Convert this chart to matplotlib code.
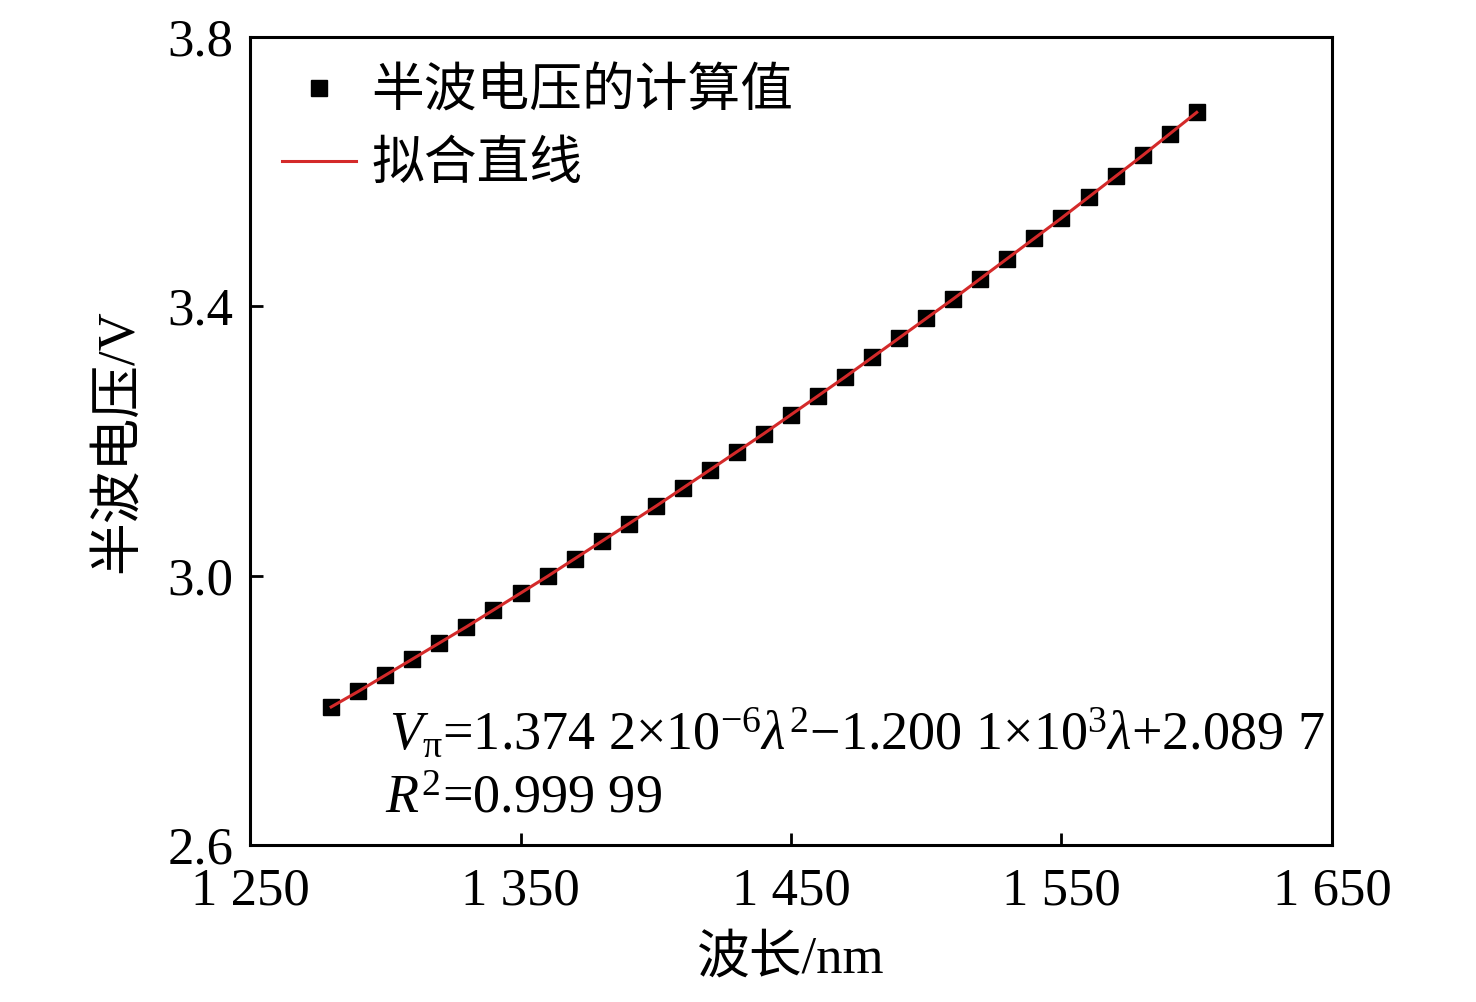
import matplotlib

matplotlib.use("Agg")
import matplotlib.pyplot as plt

plt.rcParams["font.family"] = ["Liberation Serif", "Noto Sans CJK SC", "DejaVu Sans"]
plt.rcParams["mathtext.fontset"] = "custom"
plt.rcParams["mathtext.rm"] = "Liberation Serif"
plt.rcParams["mathtext.it"] = "Liberation Serif:italic"
plt.rcParams["axes.unicode_minus"] = False

# 波长 (nm) 与半波电压计算值 (V)
wavelength = [1280, 1290, 1300, 1310, 1320, 1330, 1340, 1350, 1360, 1370, 1380,
              1390, 1400, 1410, 1420, 1430, 1440, 1450, 1460, 1470, 1480, 1490,
              1500, 1510, 1520, 1530, 1540, 1550, 1560, 1570, 1580, 1590, 1600]
v_calc = [2.805, 2.828, 2.852, 2.876, 2.900, 2.924, 2.949, 2.974, 2.999, 3.025,
          3.051, 3.077, 3.103, 3.130, 3.157, 3.184, 3.211, 3.239, 3.267, 3.295,
          3.324, 3.353, 3.382, 3.411, 3.441, 3.471, 3.501, 3.531, 3.562, 3.593,
          3.624, 3.656, 3.688]
v_fit = v_calc

xticks = [1250, 1350, 1450, 1550, 1650]
xtick_labels = ["1 250", "1 350", "1 450", "1 550", "1 650"]
yticks = [2.6, 3.0, 3.4, 3.8]
ytick_labels = ["2.6", "3.0", "3.4", "3.8"]

fig = plt.figure(figsize=(14.76, 10.02), dpi=100)
ax = fig.add_axes([0.1694, 0.1567, 0.7330, 0.8064])

ax.plot(wavelength, v_calc, "s", color="black", markersize=11, label="半波电压的计算值",
        zorder=2)
ax.plot(wavelength, v_fit, "-", color="#d42a2a", lw=2.2, label="拟合直线", zorder=3)

ax.set_xlim(1250, 1650)
ax.set_ylim(2.6, 3.8)
ax.set_xticks(xticks)
ax.set_xticklabels(xtick_labels)
ax.set_yticks(yticks)
ax.set_yticklabels(ytick_labels)
ax.tick_params(direction="in", length=9, width=2, labelsize=38)
ax.tick_params(axis="x", pad=16)
ax.tick_params(axis="y", pad=12)
for s in ax.spines.values():
    s.set_linewidth(2.2)

ax.set_xlabel("波长/nm", fontsize=38, labelpad=14)
ax.set_ylabel("半波电压/V", fontsize=38, labelpad=18)

leg = ax.legend(loc="upper left", frameon=False, fontsize=38, handlelength=1.4,
                handletextpad=0.3, borderaxespad=0.1, borderpad=0.5,
                labelspacing=0.45, markerscale=1.0)

ax.text(0.128, 0.136,
        r"$V_{\mathrm{\pi}}$=1.374 2×10$^{-6}$$\lambda^{2}$−1.200 1×10$^{3}$$\lambda$+2.089 7",
        transform=ax.transAxes, fontsize=39, ha="left", va="center")
ax.text(0.125, 0.056, r"$R^{2}$=0.999 99", transform=ax.transAxes, fontsize=39,
        ha="left", va="center")

fig.savefig("out.png", dpi=100)
plt.close(fig)
